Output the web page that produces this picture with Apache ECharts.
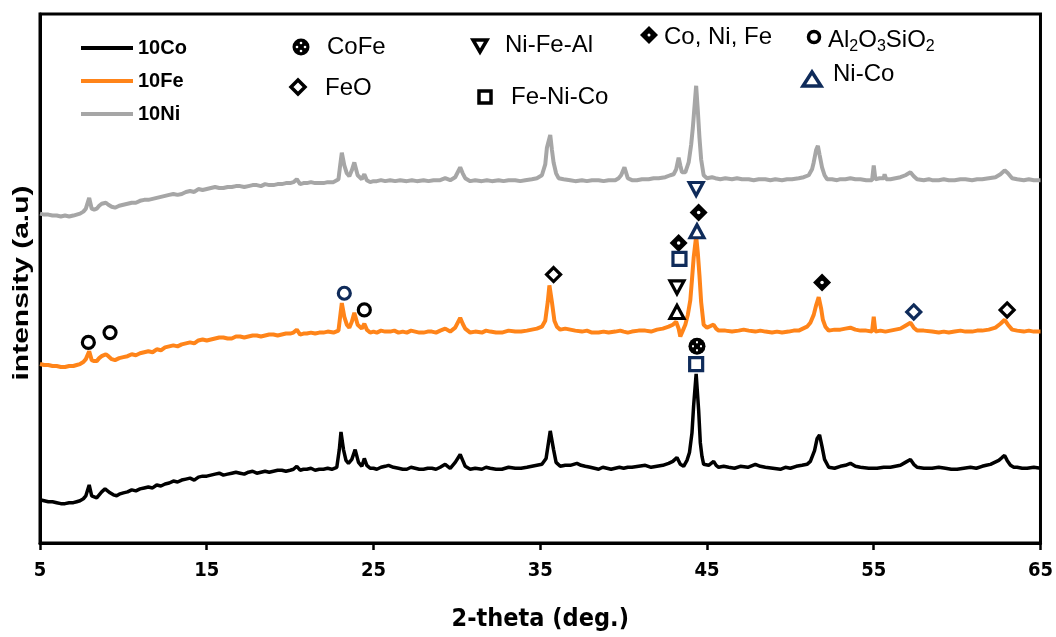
<!DOCTYPE html>
<html>
<head>
<meta charset="utf-8">
<script src="https://cdn.jsdelivr.net/npm/echarts@6/dist/echarts.min.js"></script>
<style>
  html, body { margin: 0; padding: 0; background: #fff; }
  #chart { width: 1056px; height: 637px; }
</style>
</head>
<body>
<div id="chart"></div>
<script>
// XRD patterns: [2-theta (deg), intensity (a.u.)], stacked with vertical offsets
const pattern10Co = [[5.0,44],[5.25,43],[5.5,42],[5.75,42],[6.0,41],[6.25,40],[6.5,40],[6.75,41],[7.0,41],[7.2,42],[7.4,43],[7.6,45],[7.75,48],[7.95,59],[8.1,48],[8.25,47],[8.4,46],[8.55,49],[8.7,52],[8.9,55],[9.05,53],[9.2,51],[9.4,49],[9.6,48],[9.8,50],[10.0,51],[10.25,52],[10.5,54],[10.75,53],[11.0,55],[11.25,56],[11.5,57],[11.75,56],[12.0,59],[12.25,58],[12.5,60],[12.75,61],[13.0,63],[13.25,62],[13.5,64],[13.75,65],[14.0,66],[14.25,64],[14.5,67],[14.75,68],[15.0,68],[15.25,69],[15.5,70],[15.75,71],[16.0,69],[16.25,70],[16.5,71],[16.75,72],[17.0,71],[17.25,70],[17.5,72],[17.75,73],[18.0,71],[18.25,72],[18.5,73],[18.75,72],[19.0,73],[19.25,74],[19.5,74],[19.75,73],[20.0,74],[20.2,75],[20.4,78],[20.6,74],[20.8,75],[21.0,75],[21.25,76],[21.5,74],[21.75,75],[22.0,75],[22.25,76],[22.5,75],[22.8,77],[22.95,95],[23.05,113],[23.2,95],[23.35,84],[23.5,81],[23.7,85],[23.9,95],[24.1,82],[24.3,78],[24.45,86],[24.6,79],[24.8,76],[25.0,76],[25.2,75],[25.45,77],[25.7,78],[25.9,79],[26.2,77],[26.5,76],[26.75,75],[27.0,75],[27.25,77],[27.5,76],[27.75,75],[28.0,75],[28.25,76],[28.5,76],[28.75,75],[29.0,77],[29.3,80],[29.6,76],[29.9,82],[30.2,90],[30.35,84],[30.5,78],[30.8,75],[31.1,76],[31.5,75],[31.75,77],[32.0,76],[32.35,75],[32.7,75],[33.1,77],[33.5,76],[33.85,76],[34.2,77],[34.5,78],[34.8,79],[35.1,80],[35.35,86],[35.6,114],[35.8,95],[35.95,82],[36.2,78],[36.5,79],[36.8,79],[37.2,81],[37.45,79],[37.7,78],[38.0,77],[38.25,76],[38.5,75],[38.75,77],[39.0,76],[39.25,75],[39.5,76],[39.75,77],[40.0,76],[40.25,77],[40.5,77],[40.9,78],[41.3,79],[41.65,77],[42.0,78],[42.35,79],[42.7,81],[42.95,83],[43.2,87],[43.4,80],[43.6,78],[43.8,84],[43.95,92],[44.1,112],[44.2,140],[44.35,172],[44.5,135],[44.6,102],[44.7,88],[44.8,80],[45.1,79],[45.25,81],[45.4,83],[45.55,79],[45.7,77],[46.0,78],[46.3,77],[46.65,76],[47.0,78],[47.45,77],[47.9,80],[48.2,78],[48.5,77],[48.95,76],[49.4,75],[49.7,77],[50.0,76],[50.35,78],[50.7,79],[51.0,80],[51.2,83],[51.45,94],[51.6,106],[51.75,110],[51.9,98],[52.05,85],[52.3,77],[52.65,76],[53.0,78],[53.3,79],[53.6,81],[53.9,78],[54.2,77],[54.7,76],[55.2,76],[55.6,77],[56.0,77],[56.3,78],[56.6,79],[56.9,82],[57.2,85],[57.4,80],[57.6,77],[58.0,76],[58.5,76],[58.9,77],[59.3,76],[59.65,75],[60.0,75],[60.4,76],[60.8,77],[61.15,76],[61.5,78],[61.75,79],[62.0,80],[62.25,82],[62.5,84],[62.7,87],[62.85,89],[63.0,84],[63.2,79],[63.4,77],[63.6,77],[63.9,76],[64.2,76],[64.6,77],[65.0,76]];

const pattern10Fe = [[5.0,182],[5.25,181],[5.5,181],[5.75,180],[6.0,180],[6.25,179],[6.5,179],[6.75,180],[7.0,180],[7.2,181],[7.4,182],[7.6,184],[7.75,187],[7.95,195],[8.1,186],[8.25,185],[8.4,185],[8.55,188],[8.7,190],[8.95,192],[9.1,190],[9.3,187],[9.5,186],[9.75,188],[10.0,189],[10.25,190],[10.5,192],[10.75,191],[11.0,193],[11.25,194],[11.5,195],[11.75,194],[12.0,197],[12.25,196],[12.5,199],[12.75,200],[13.0,201],[13.25,200],[13.5,202],[13.75,203],[14.0,204],[14.25,203],[14.5,206],[14.75,207],[15.0,206],[15.25,207],[15.5,208],[15.75,209],[16.0,209],[16.25,208],[16.5,208],[16.75,210],[17.0,210],[17.25,209],[17.5,210],[17.75,211],[18.0,211],[18.25,210],[18.5,211],[18.75,212],[19.0,212],[19.25,211],[19.5,212],[19.75,213],[20.0,213],[20.2,214],[20.4,217],[20.6,212],[20.8,213],[21.0,213],[21.25,214],[21.5,213],[21.75,214],[22.0,214],[22.25,215],[22.6,214],[22.9,216],[23.0,230],[23.1,244],[23.25,230],[23.4,222],[23.55,219],[23.7,225],[23.85,234],[24.05,222],[24.3,218],[24.45,223],[24.6,217],[24.8,214],[25.0,215],[25.2,214],[25.45,216],[25.7,215],[26.0,215],[26.25,216],[26.5,214],[26.75,215],[27.0,214],[27.25,216],[27.5,215],[27.75,214],[28.0,214],[28.25,215],[28.5,215],[28.75,214],[29.0,216],[29.3,218],[29.6,215],[29.9,219],[30.2,229],[30.35,223],[30.5,218],[30.8,214],[31.1,215],[31.5,214],[31.75,216],[32.0,215],[32.35,214],[32.7,214],[33.1,216],[33.5,215],[33.85,215],[34.2,216],[34.5,217],[34.8,218],[35.1,220],[35.3,226],[35.45,245],[35.55,262],[35.7,245],[35.85,226],[36.0,220],[36.2,217],[36.5,218],[36.8,217],[37.1,216],[37.5,215],[37.8,216],[38.1,214],[38.5,214],[38.8,215],[39.1,214],[39.5,215],[39.8,216],[40.0,215],[40.25,214],[40.5,215],[40.9,216],[41.3,216],[41.65,215],[42.0,217],[42.35,218],[42.7,220],[42.95,222],[43.15,225],[43.3,218],[43.4,210],[43.55,216],[43.7,222],[43.85,232],[44.0,247],[44.1,268],[44.2,290],[44.35,312],[44.45,295],[44.55,272],[44.65,245],[44.8,222],[45.0,219],[45.1,219],[45.25,221],[45.4,222],[45.55,218],[45.7,216],[46.1,216],[46.5,215],[46.9,216],[47.2,217],[47.5,216],[47.9,215],[48.2,216],[48.5,215],[48.9,214],[49.2,215],[49.5,214],[49.9,215],[50.2,216],[50.5,216],[50.75,218],[51.0,220],[51.2,224],[51.4,232],[51.55,242],[51.7,250],[51.85,238],[51.95,227],[52.1,220],[52.3,216],[52.65,217],[53.0,217],[53.3,218],[53.6,219],[53.9,217],[54.2,216],[54.55,216],[54.9,215],[55.0,230],[55.1,215],[55.4,216],[55.7,215],[56.0,216],[56.3,217],[56.6,218],[56.9,221],[57.2,224],[57.4,219],[57.6,216],[58.0,216],[58.5,215],[58.9,214],[59.2,215],[59.5,214],[59.85,215],[60.2,216],[60.5,215],[60.9,215],[61.2,216],[61.5,216],[61.9,217],[62.3,219],[62.6,223],[62.85,227],[63.05,222],[63.3,217],[63.6,216],[64.0,215],[64.3,216],[64.6,215],[65.0,215]];

const pattern10Ni = [[5.0,335],[5.25,334],[5.5,334],[5.75,333],[6.0,333],[6.25,332],[6.5,333],[6.75,332],[7.0,333],[7.2,334],[7.4,335],[7.6,337],[7.75,340],[7.95,351],[8.1,340],[8.25,339],[8.4,340],[8.55,343],[8.7,345],[8.95,346],[9.1,344],[9.3,342],[9.5,341],[9.75,343],[10.0,344],[10.25,345],[10.5,346],[10.75,346],[11.0,348],[11.25,349],[11.5,349],[11.75,350],[12.0,351],[12.25,352],[12.5,353],[12.75,354],[13.0,355],[13.25,354],[13.5,355],[13.75,357],[14.0,358],[14.25,357],[14.5,360],[14.75,359],[15.0,360],[15.25,361],[15.5,362],[15.75,361],[16.0,361],[16.25,362],[16.5,362],[16.75,363],[17.0,363],[17.25,362],[17.5,363],[17.75,364],[18.0,364],[18.25,363],[18.5,365],[18.75,364],[19.0,364],[19.25,365],[19.5,365],[19.75,366],[20.0,366],[20.2,367],[20.4,370],[20.6,365],[20.8,366],[21.0,366],[21.25,367],[21.5,366],[21.75,366],[22.0,366],[22.25,367],[22.6,367],[22.9,370],[23.0,384],[23.1,397],[23.25,384],[23.4,376],[23.55,373],[23.7,379],[23.85,387],[24.05,374],[24.3,370],[24.45,375],[24.6,369],[24.8,367],[25.0,368],[25.2,368],[25.45,369],[25.7,368],[26.0,369],[26.3,368],[26.6,369],[27.0,368],[27.3,369],[27.6,368],[28.0,369],[28.3,368],[28.6,369],[29.0,369],[29.3,371],[29.6,369],[29.9,372],[30.2,382],[30.35,376],[30.5,371],[30.8,368],[31.1,369],[31.5,368],[31.8,369],[32.1,368],[32.5,369],[32.8,368],[33.1,369],[33.5,369],[33.8,368],[34.1,369],[34.5,370],[34.8,371],[35.1,374],[35.3,385],[35.4,402],[35.6,415],[35.7,400],[35.8,387],[35.95,376],[36.1,371],[36.4,370],[36.8,369],[37.1,368],[37.5,369],[37.8,368],[38.1,369],[38.5,369],[38.8,368],[39.1,369],[39.5,369],[39.7,371],[39.85,374],[40.05,382],[40.25,371],[40.5,369],[40.8,369],[41.1,370],[41.5,370],[41.8,371],[42.1,371],[42.5,372],[42.8,374],[43.0,375],[43.15,380],[43.3,392],[43.4,384],[43.5,377],[43.7,377],[43.9,387],[44.05,405],[44.15,422],[44.35,465],[44.45,440],[44.55,412],[44.65,390],[44.8,374],[45.0,371],[45.1,370],[45.3,372],[45.5,371],[45.8,370],[46.1,371],[46.5,370],[46.8,371],[47.1,370],[47.5,370],[47.8,369],[48.1,370],[48.5,370],[48.8,369],[49.1,370],[49.5,369],[49.8,370],[50.1,370],[50.5,371],[50.8,372],[51.1,374],[51.3,380],[51.4,387],[51.55,400],[51.65,404],[51.75,395],[51.9,382],[52.05,374],[52.2,370],[52.5,370],[52.8,369],[53.0,370],[53.3,370],[53.6,371],[53.9,370],[54.2,370],[54.55,369],[54.9,369],[55.0,384],[55.1,370],[55.35,371],[55.6,371],[55.65,375],[55.75,370],[56.0,370],[56.3,371],[56.6,372],[56.9,374],[57.2,377],[57.4,373],[57.6,370],[58.0,369],[58.3,370],[58.5,369],[58.9,369],[59.2,370],[59.5,369],[59.85,369],[60.2,370],[60.5,370],[60.9,369],[61.2,370],[61.5,370],[61.9,371],[62.3,372],[62.6,375],[62.85,379],[63.05,376],[63.3,371],[63.6,370],[64.0,369],[64.3,370],[64.6,369],[65.0,369]];

// Phase identification marks: [2-theta, intensity position]
const al2o3sio2Black = [[7.9,204],[9.2,214],[24.45,237]];
const al2o3sio2Navy = [[23.25,254]];
const feoBlack = [[35.8,273],[63.0,237]];
const feoNavy = [[57.4,235]];
const coNiFePeaks = [[43.3,305],[44.5,336],[51.9,265]];
const niFeAlBlack = [[43.2,260]];
const niFeAlNavy = [[44.35,360]];
const niCoBlack = [[43.2,235]];
const niCoNavy = [[44.4,317]];
const feNiCoNavy = [[43.35,289],[44.35,182]];
const coFePeaks = [[44.4,200]];

const xTicks = { min: 5, max: 65, step: 10 };
const seriesNames = ['10Co', '10Fe', '10Ni'];

const NAVY = '#0f2b5a';
const NARROW = '"Liberation Sans Narrow", "DejaVu Sans Condensed", "Liberation Sans", sans-serif';
const SANS = '"Liberation Sans", Arial, sans-serif';

function curve(name, data, color, width) {
  return {
    name, type: 'line', data, showSymbol: false, symbol: 'none',
    lineStyle: { color, width }, itemStyle: { color },
    silent: true, z: 2
  };
}

function marks(data, symbol, size, fill, stroke, extra) {
  return Object.assign({
    type: 'scatter', data, symbol, symbolSize: size,
    itemStyle: { color: fill, borderColor: stroke || fill, borderWidth: stroke ? 3.2 : 0, opacity: 1 },
    silent: true, z: 5
  }, extra || {});
}

const dotsPath = 'path://M7,3h2v2h-2z M7,11h2v2h-2z M3,7h2v2h-2z M11,7h2v2h-2z';

const chart = echarts.init(document.getElementById('chart'), null, { renderer: 'canvas' });

// Phase key drawn in the upper part of the plot
const keyText = (x, y, text) => ({
  type: 'text', x, y, z: 10,
  style: { text, font: '24px ' + SANS, fill: '#000', align: 'left', verticalAlign: 'middle' }
});

const graphic = [
  // CoFe
  { type: 'circle', shape: { cx: 301, cy: 47, r: 8.5 }, style: { fill: '#000' }, z: 10 },
  { type: 'circle', shape: { cx: 301, cy: 43, r: 1.3 }, style: { fill: '#fff' }, z: 11 },
  { type: 'circle', shape: { cx: 301, cy: 51, r: 1.3 }, style: { fill: '#fff' }, z: 11 },
  { type: 'circle', shape: { cx: 297, cy: 47, r: 1.3 }, style: { fill: '#fff' }, z: 11 },
  { type: 'circle', shape: { cx: 305, cy: 47, r: 1.3 }, style: { fill: '#fff' }, z: 11 },
  keyText(327, 47, 'CoFe'),
  // FeO
  { type: 'polygon', shape: { points: [[298, 80], [305, 87], [298, 94], [291, 87]] },
    style: { fill: '#fff', stroke: '#000', lineWidth: 3.5 }, z: 10 },
  keyText(325, 88, 'FeO'),
  // Ni-Fe-Al
  { type: 'polygon', shape: { points: [[473, 40], [487, 40], [480, 52]] },
    style: { fill: '#fff', stroke: '#000', lineWidth: 3.5 }, z: 10 },
  keyText(505, 45, 'Ni-Fe-Al'),
  // Fe-Ni-Co
  { type: 'rect', shape: { x: 479, y: 91, width: 12, height: 12 },
    style: { fill: '#fff', stroke: '#000', lineWidth: 3.5 }, z: 10 },
  keyText(511, 97, 'Fe-Ni-Co'),
  // Co, Ni, Fe
  { type: 'polygon', shape: { points: [[649, 26], [658, 35], [649, 44], [640, 35]] },
    style: { fill: '#000' }, z: 10 },
  { type: 'circle', shape: { cx: 649, cy: 35, r: 1.5 }, style: { fill: '#fff' }, z: 11 },
  keyText(664, 37, 'Co, Ni, Fe'),
  // Al2O3SiO2
  { type: 'circle', shape: { cx: 814, cy: 37, r: 5.5 },
    style: { fill: '#fff', stroke: '#000', lineWidth: 3.5 }, z: 10 },
  { type: 'text', x: 828, y: 40, z: 10,
    style: {
      text: '{a|Al}{b|2}{a|O}{b|3}{a|SiO}{b|2}', align: 'left', verticalAlign: 'middle', fill: '#000',
      rich: {
        a: { fontSize: 24, fontFamily: SANS, lineHeight: 30, fill: '#000' },
        b: { fontSize: 16, fontFamily: SANS, lineHeight: 30, verticalAlign: 'bottom', fill: '#000' }
      }
    } },
  // Ni-Co
  { type: 'polygon', shape: { points: [[803, 86], [821, 86], [812, 72]] },
    style: { fill: '#fff', stroke: NAVY, lineWidth: 3.5 }, z: 10 },
  keyText(833, 74, 'Ni-Co'),
  // vertical axis title
  { type: 'text', x: 22, y: 283, rotation: Math.PI / 2, scaleX: 1, scaleY: 0.75, z: 10,
    style: { text: 'intensity (a.u)', font: 'bold 30px ' + SANS, fill: '#000', align: 'center', verticalAlign: 'middle' } }
];

const option = {
  animation: false,
  backgroundColor: '#fff',
  grid: { left: 40, right: 13, top: 14, bottom: 85, show: true, borderColor: '#000', borderWidth: 3, backgroundColor: 'transparent' },
  legend: {
    data: seriesNames, orient: 'vertical', left: 76, top: 33,
    icon: 'rect', itemWidth: 52, itemHeight: 4, itemGap: 13,
    textStyle: { fontFamily: SANS, fontWeight: 'bold', fontSize: 20, color: '#000' },
    selectedMode: false
  },
  xAxis: {
    type: 'value', min: xTicks.min, max: xTicks.max, interval: xTicks.step,
    name: '2-theta (deg.)', nameLocation: 'middle', nameGap: 64,
    nameTextStyle: { fontFamily: NARROW, fontWeight: 'bold', fontSize: 25, color: '#000' },
    axisLine: { show: true, lineStyle: { color: '#000', width: 3 } },
    axisTick: { show: true, inside: false, length: 7, lineStyle: { color: '#000', width: 2.5 } },
    axisLabel: { margin: 18, color: '#000', fontFamily: NARROW, fontWeight: 'bold', fontSize: 20 },
    splitLine: { show: false }
  },
  yAxis: {
    type: 'value', min: 0, max: 538,
    axisLine: { show: true, lineStyle: { color: '#000', width: 3 } },
    axisTick: { show: false }, axisLabel: { show: false }, splitLine: { show: false }
  },
  graphic,
  series: [
    curve('10Co', pattern10Co, '#000000', 3.5),
    curve('10Fe', pattern10Fe, '#ff8419', 4),
    curve('10Ni', pattern10Ni, '#a6a6a6', 4),
    marks(al2o3sio2Black, 'circle', 12, '#fff', '#000'),
    marks(al2o3sio2Navy, 'circle', 12, '#fff', NAVY),
    marks(feoBlack, 'diamond', 14, '#fff', '#000'),
    marks(feoNavy, 'diamond', 14, '#fff', NAVY),
    marks(coNiFePeaks, 'diamond', 18, '#000', null),
    marks(coNiFePeaks, 'circle', 3.5, '#fff', null, { z: 6 }),
    marks(niFeAlBlack, 'triangle', [14, 13], '#fff', '#000', { symbolRotate: 180 }),
    marks(niFeAlNavy, 'triangle', [14, 13], '#fff', NAVY, { symbolRotate: 180 }),
    marks(niCoBlack, 'triangle', [14, 13], '#fff', '#000'),
    marks(niCoNavy, 'triangle', [14, 13], '#fff', NAVY),
    marks(feNiCoNavy, 'rect', 13, '#fff', NAVY),
    marks(coFePeaks, 'circle', 17, '#000', null),
    marks(coFePeaks, dotsPath, 10, '#fff', null, { z: 6 })
  ]
};

chart.setOption(option);
</script>
</body>
</html>
